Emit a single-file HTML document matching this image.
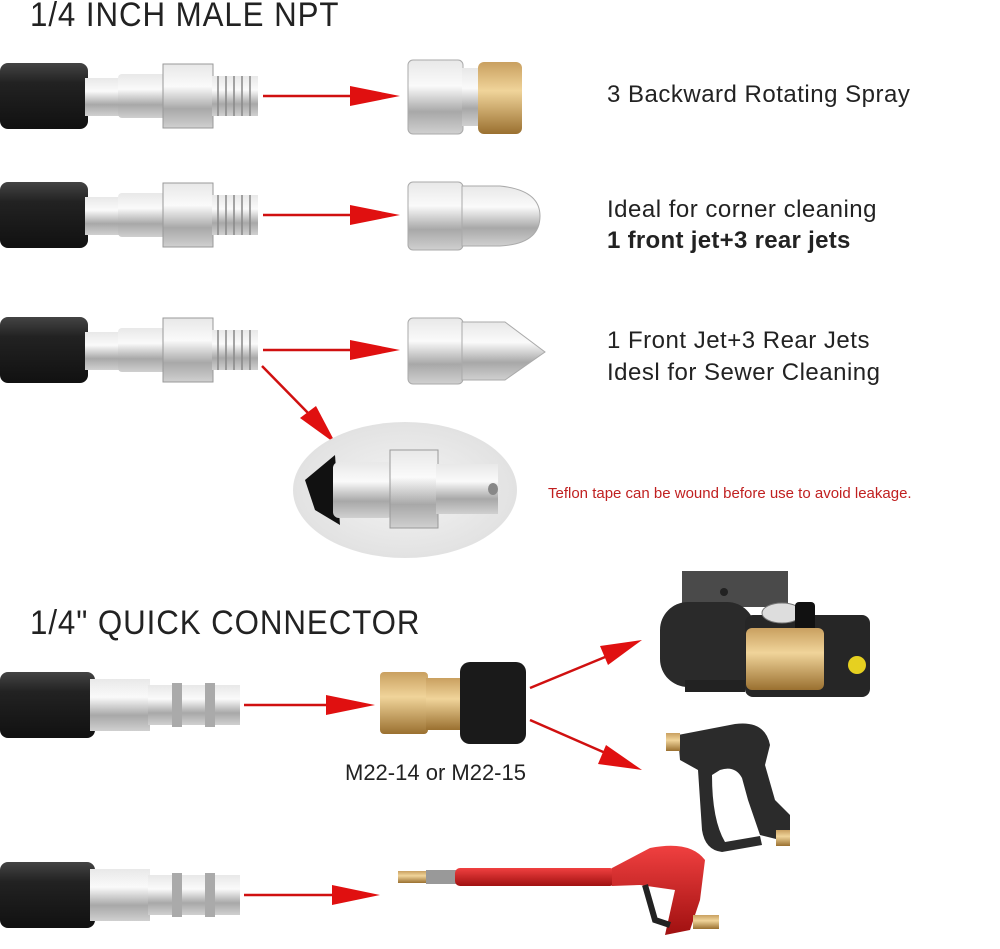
<!DOCTYPE html>
<html><head><meta charset="utf-8"><style>
body{margin:0;background:#fff;width:1000px;height:949px;overflow:hidden;position:relative;font-family:"Liberation Sans",sans-serif}
.t{position:absolute;color:#222;white-space:nowrap}
</style></head><body>
<svg width="1000" height="949" style="position:absolute;left:0;top:0">
<defs>
<linearGradient id="hose" x1="0" y1="0" x2="0" y2="1"><stop offset="0" stop-color="#444"/><stop offset=".3" stop-color="#222"/><stop offset="1" stop-color="#111"/></linearGradient>
<linearGradient id="met" x1="0" y1="0" x2="0" y2="1"><stop offset="0" stop-color="#e8e8e8"/><stop offset=".35" stop-color="#fafafa"/><stop offset=".7" stop-color="#a8a8a8"/><stop offset="1" stop-color="#d0d0d0"/></linearGradient>
<linearGradient id="brass" x1="0" y1="0" x2="0" y2="1"><stop offset="0" stop-color="#c9a060"/><stop offset=".4" stop-color="#f0d49a"/><stop offset="1" stop-color="#9a7030"/></linearGradient>
<linearGradient id="red" x1="0" y1="0" x2="0" y2="1"><stop offset="0" stop-color="#f04040"/><stop offset="1" stop-color="#a01010"/></linearGradient>
<radialGradient id="ell" cx=".5" cy=".5" r=".5"><stop offset="0" stop-color="#f4f4f4"/><stop offset="1" stop-color="#e2e2e2"/></radialGradient>
<g id="fit">
<rect x="0" y="-33" width="88" height="66" rx="8" fill="url(#hose)"/>
<rect x="85" y="-18" width="36" height="38" fill="url(#met)"/>
<rect x="118" y="-22" width="48" height="44" rx="4" fill="url(#met)"/>
<rect x="163" y="-32" width="50" height="64" fill="url(#met)" stroke="#999" stroke-width="1"/>
<rect x="212" y="-20" width="46" height="40" fill="url(#met)"/>
<g stroke="#888" stroke-width="1.5"><line x1="218" y1="-20" x2="218" y2="20"/><line x1="226" y1="-20" x2="226" y2="20"/><line x1="234" y1="-20" x2="234" y2="20"/><line x1="242" y1="-20" x2="242" y2="20"/><line x1="250" y1="-20" x2="250" y2="20"/></g>
</g>
<g id="qfit">
<rect x="0" y="-33" width="95" height="66" rx="8" fill="url(#hose)"/>
<rect x="90" y="-26" width="60" height="52" fill="url(#met)"/>
<rect x="148" y="-20" width="92" height="40" fill="url(#met)"/>
<rect x="172" y="-22" width="10" height="44" fill="#aaa"/>
<rect x="205" y="-22" width="10" height="44" fill="#aaa"/>
</g>
</defs>

<use href="#fit" y="96"/>
<line x1="263" y1="96" x2="355" y2="96" stroke="#d01010" stroke-width="2.5"/><polygon points="350,86 400,96 350,106" fill="#e01010"/>
<rect x="408" y="60" width="55" height="74" rx="5" fill="url(#met)" stroke="#aaa"/>
<rect x="462" y="68" width="18" height="58" fill="url(#met)"/>
<rect x="478" y="62" width="44" height="72" rx="6" fill="url(#brass)"/>
<use href="#fit" y="215"/>
<line x1="263" y1="215" x2="355" y2="215" stroke="#d01010" stroke-width="2.5"/><polygon points="350,205 400,215 350,225" fill="#e01010"/>
<rect x="408" y="182" width="55" height="68" rx="5" fill="url(#met)" stroke="#aaa"/>
<path d="M462 186 L500 186 Q540 190 540 216 Q540 244 500 246 L462 246 Z" fill="url(#met)" stroke="#aaa"/>
<use href="#fit" y="350"/>
<line x1="263" y1="350" x2="355" y2="350" stroke="#d01010" stroke-width="2.5"/><polygon points="350,340 400,350 350,360" fill="#e01010"/>
<rect x="408" y="318" width="55" height="66" rx="5" fill="url(#met)" stroke="#aaa"/>
<path d="M462 322 L505 322 L545 352 L505 380 L462 380 Z" fill="url(#met)" stroke="#aaa"/>
<line x1="262" y1="366" x2="310" y2="415" stroke="#d01010" stroke-width="2.5"/><polygon points="300,418 336,444 316,406" fill="#e01010"/>
<ellipse cx="405" cy="490" rx="112" ry="68" fill="url(#ell)"/>
<path d="M305 480 L335 455 L340 525 L315 510 Z" fill="#111"/>
<rect x="333" y="462" width="60" height="56" rx="6" fill="url(#met)"/>
<rect x="390" y="450" width="48" height="78" fill="url(#met)" stroke="#999"/>
<rect x="436" y="464" width="62" height="50" fill="url(#met)"/>
<ellipse cx="493" cy="489" rx="5" ry="6" fill="#888"/>

<use href="#qfit" y="705"/>
<line x1="244" y1="705" x2="330" y2="705" stroke="#d01010" stroke-width="2.5"/><polygon points="326,695 375,705 326,715" fill="#e01010"/>
<rect x="380" y="672" width="48" height="62" rx="4" fill="url(#brass)"/>
<rect x="426" y="678" width="40" height="52" fill="url(#brass)"/>
<rect x="460" y="662" width="66" height="82" rx="10" fill="#1a1a1a"/>
<line x1="530" y1="688" x2="610" y2="655" stroke="#d01010" stroke-width="2.5"/><polygon points="600,646 642,640 608,665" fill="#e01010"/>
<line x1="530" y1="720" x2="610" y2="755" stroke="#d01010" stroke-width="2.5"/><polygon points="606,745 642,770 598,764" fill="#e01010"/>
<!-- pump -->
<rect x="682" y="571" width="106" height="36" fill="#4a4a4a"/>
<circle cx="724" cy="592" r="4" fill="#222"/>
<rect x="660" y="602" width="95" height="85" rx="28" fill="#2a2a2a"/>
<rect x="685" y="680" width="60" height="12" fill="#222"/>
<rect x="745" y="615" width="125" height="82" rx="8" fill="#262626"/>
<ellipse cx="782" cy="613" rx="20" ry="10" fill="#ddd" stroke="#777"/>
<rect x="795" y="602" width="20" height="35" rx="4" fill="#111"/>
<rect x="746" y="628" width="78" height="62" rx="6" fill="url(#brass)"/>
<circle cx="857" cy="665" r="9" fill="#e6d020"/>
<!-- gun -->
<path d="M678 735 L735 724 Q765 720 770 745 L765 765 L775 800 L790 815 L790 835 L780 840 L760 835 L748 800 L742 778 Q735 765 720 770 L712 775 Q712 820 725 842 L760 836 L762 845 L722 852 Q705 850 702 830 L698 770 L680 760 Z" fill="#2b2b2b"/>
<rect x="666" y="733" width="14" height="18" fill="url(#brass)"/>
<rect x="776" y="830" width="14" height="16" fill="url(#brass)"/>
<!-- bottom -->
<use href="#qfit" y="895"/>
<line x1="244" y1="895" x2="335" y2="895" stroke="#d01010" stroke-width="2.5"/><polygon points="332,885 380,895 332,905" fill="#e01010"/>
<rect x="398" y="871" width="30" height="12" fill="url(#brass)"/>
<rect x="426" y="870" width="30" height="14" fill="#999"/>
<rect x="455" y="868" width="160" height="18" rx="5" fill="url(#red)"/>
<path d="M612 868 L650 848 Q690 840 705 860 L700 900 L690 930 L665 935 L675 890 L640 885 L612 886 Z" fill="url(#red)"/>
<path d="M645 885 L655 920 L670 925" stroke="#222" stroke-width="6" fill="none"/>
<rect x="693" y="915" width="26" height="14" fill="url(#brass)"/>
</svg>
<div class="t" style="left:30px;top:-4px;font-size:34px;letter-spacing:1px;transform:scaleX(.92);transform-origin:left">1/4 INCH MALE NPT</div>
<div class="t" style="left:607px;top:81px;font-size:24px;letter-spacing:.5px">3 Backward Rotating Spray</div>
<div class="t" style="left:607px;top:196px;font-size:24px;letter-spacing:.5px">Ideal for corner cleaning</div>
<div class="t" style="left:607px;top:227px;font-size:24px;font-weight:bold;letter-spacing:.3px">1 front jet+3 rear jets</div>
<div class="t" style="left:607px;top:327px;font-size:24px;letter-spacing:.5px">1 Front Jet+3 Rear Jets</div>
<div class="t" style="left:607px;top:359px;font-size:24px;letter-spacing:.5px">Idesl for Sewer Cleaning</div>
<div class="t" style="left:548px;top:485px;font-size:15px;color:#c02020">Teflon tape can be wound before use to avoid leakage.</div>
<div class="t" style="left:30px;top:604px;font-size:34px;letter-spacing:1px;transform:scaleX(.92);transform-origin:left">1/4" QUICK CONNECTOR</div>
<div class="t" style="left:345px;top:760px;font-size:22px">M22-14 or M22-15</div>
</body></html>
